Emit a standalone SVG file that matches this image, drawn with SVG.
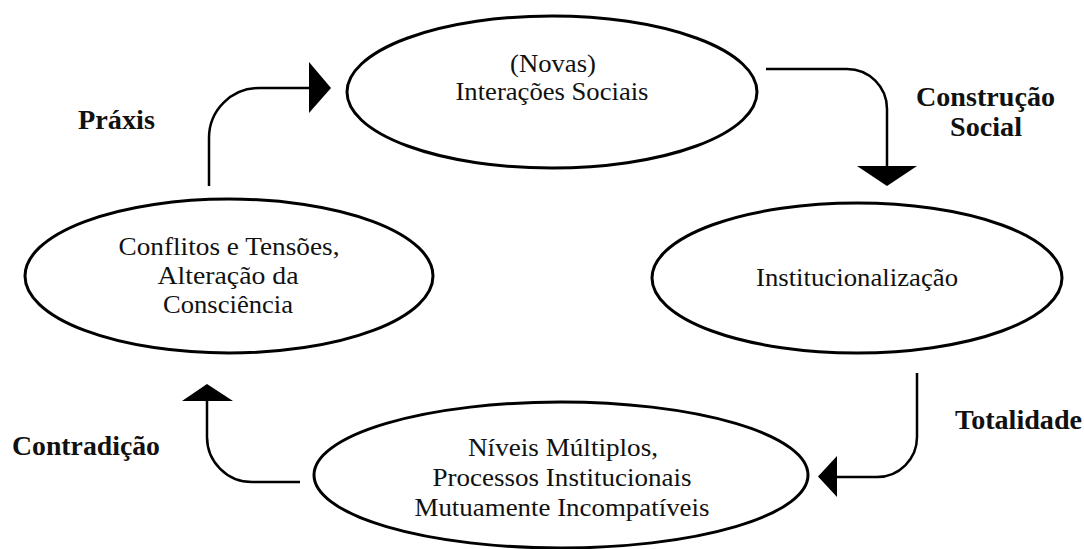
<svg xmlns="http://www.w3.org/2000/svg" width="1084" height="549" viewBox="0 0 1084 549">
<style>
.node ellipse{fill:#fff;stroke:#000;stroke-width:3}
text{font-family:'Liberation Serif','Times New Roman',serif;font-size:26px;fill:#111;text-anchor:middle}
.b{font-weight:bold;font-size:27px}
.conn path{fill:none;stroke:#000;stroke-width:2.5}
.conn polygon{fill:#000;stroke:none}
</style>
<rect width="1084" height="549" fill="#fff"/>
<g id="connectors" class="conn">
<path d="M209,186 V138 A50,50 0 0 1 259,88 H311"/>
<polygon points="309,62 309,113 331,88"/>
<path d="M766,69 H847 A40,40 0 0 1 887,109 V167"/>
<polygon points="857,166 917,166 887,186"/>
<path d="M917,373 V437 A40,40 0 0 1 877,477 H836"/>
<polygon points="837,456 837,497 818,476.5"/>
<path d="M300,482 H252 A45,45 0 0 1 207,437 V400"/>
<polygon points="182,401 233,401 207,384"/>
</g>
<g id="node-interacoes" class="node">
<ellipse cx="552" cy="92" rx="205" ry="76"/>
<text x="553" y="72" textLength="86" lengthAdjust="spacingAndGlyphs">(Novas)</text>
<text x="552" y="100" textLength="193" lengthAdjust="spacingAndGlyphs">Interações Sociais</text>
</g>
<g id="node-institucionalizacao" class="node">
<ellipse cx="857" cy="278" rx="205" ry="75"/>
<text x="857" y="286" textLength="202" lengthAdjust="spacingAndGlyphs">Institucionalização</text>
</g>
<g id="node-niveis" class="node">
<ellipse cx="561" cy="475" rx="247" ry="73"/>
<text x="563" y="456" textLength="190" lengthAdjust="spacingAndGlyphs">Níveis Múltiplos,</text>
<text x="562" y="486" textLength="259" lengthAdjust="spacingAndGlyphs">Processos Institucionais</text>
<text x="562" y="516" textLength="295" lengthAdjust="spacingAndGlyphs">Mutuamente Incompatíveis</text>
</g>
<g id="node-conflitos" class="node">
<ellipse cx="229" cy="276" rx="204" ry="77"/>
<text x="229" y="255" textLength="221" lengthAdjust="spacingAndGlyphs">Conflitos e Tensões,</text>
<text x="228" y="284" textLength="141" lengthAdjust="spacingAndGlyphs">Alteração da</text>
<text x="228" y="313" textLength="130" lengthAdjust="spacingAndGlyphs">Consciência</text>
</g>
<g id="labels">
<text class="b" x="116.5" y="129" textLength="77" lengthAdjust="spacingAndGlyphs">Práxis</text>
<text class="b" x="985.5" y="106" textLength="139" lengthAdjust="spacingAndGlyphs">Construção</text>
<text class="b" x="986" y="136" textLength="72" lengthAdjust="spacingAndGlyphs">Social</text>
<text class="b" x="1018.5" y="429" textLength="127" lengthAdjust="spacingAndGlyphs">Totalidade</text>
<text class="b" x="86" y="455" textLength="148" lengthAdjust="spacingAndGlyphs">Contradição</text>
</g>
</svg>
